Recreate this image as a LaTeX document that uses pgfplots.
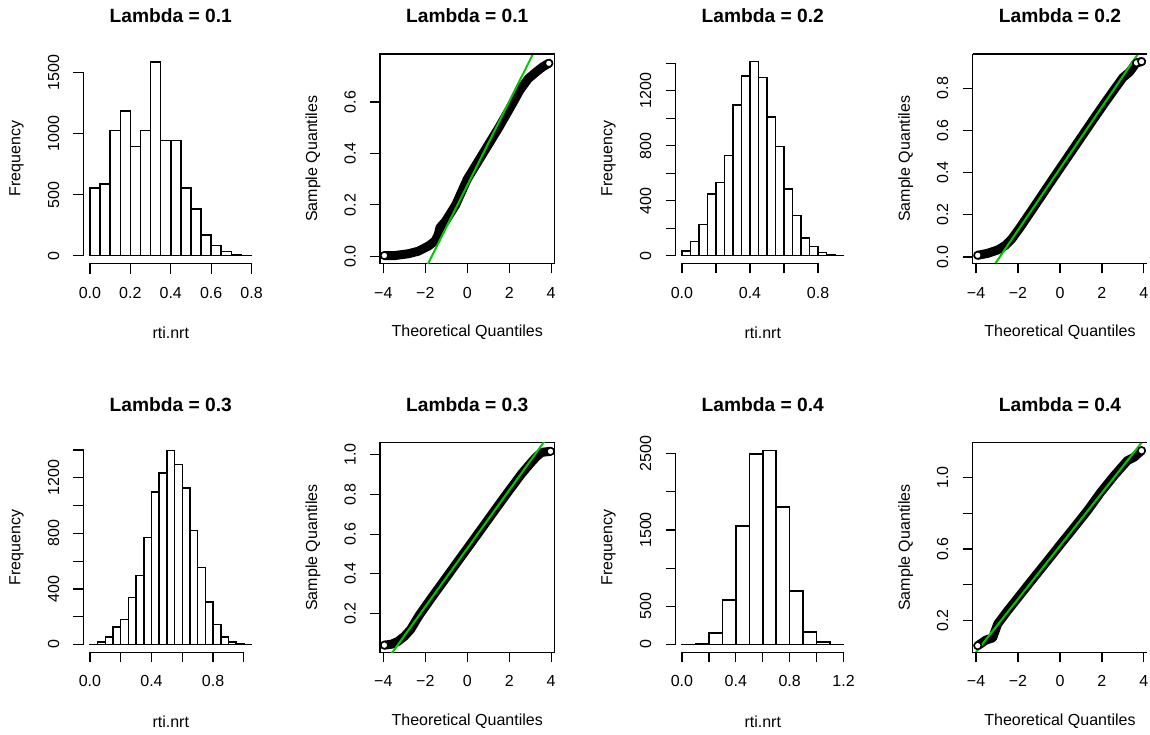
\documentclass[border=0pt]{standalone}
\usepackage{fontspec}
\setmainfont{Liberation Sans}
\usepackage{pgfplots}
\pgfplotsset{compat=1.18}
\definecolor{qqgreen}{RGB}{0,200,0}

\pgfplotsset{
  rpanel/.style={
    scale only axis, width=174.5pt, height=209.5pt, anchor=south west,
    tick align=outside, tick pos=left, major tick length=10pt,
    every tick/.style={black, line width=1.2pt},
    axis line style={line width=1.2pt},
    tick label style={font=\fontsize{16}{19}\selectfont},
    xticklabel style={anchor=center, yshift=-19pt},
    yticklabel style={anchor=center, xshift=-20pt, rotate=90},
    every axis title/.style={at={(0.5,1)}, anchor=center, yshift=38pt,
      font=\fontsize{19.2}{23}\selectfont\bfseries},
    every axis x label/.style={at={(axis description cs:0.5,0)}, anchor=center,
      yshift=-69pt, font=\fontsize{16}{19}\selectfont},
    every axis y label/.style={at={(axis description cs:0,0.5)}, xshift=-67pt,
      rotate=90, anchor=center, font=\fontsize{16}{19}\selectfont},
  },
  rhist/.style={rpanel, axis line style={draw=none}, clip=false,
    xlabel={rti.nrt}, ylabel={Frequency}},
  rqq/.style={rpanel, xmin=-4.16, xmax=4.16,
    xtick={-4,-2,0,2,4}, xticklabels={−4,−2,0,2,4},
    xlabel={Theoretical Quantiles}, ylabel={Sample Quantiles}},
  bars/.style={ybar interval, draw=black, fill=white, line width=1.5pt},
  band/.style={black, line width=9pt, line cap=round, line join=round},
  ends/.style={only marks, mark=*, mark size=3.6pt,
    mark options={draw=black, fill=white, line width=1.5pt}},
  qqline/.style={qqgreen, line width=2pt},
}

\begin{document}
\begin{tikzpicture}[x=1pt,y=1pt]
\path[use as bounding box] (0,0) rectangle (1150,734);

% ---- row 1 ----
\begin{axis}[rhist, at={(83.5pt,470.5pt)}, title={Lambda = 0.1},
  xmin=-0.032, xmax=0.832, ymin=-63.6, ymax=1653.6,
  xtick={0,0.2,0.4,0.6,0.8}, xticklabels={0.0,0.2,0.4,0.6,0.8},
  ytick={0,500,1000,1500}, yticklabels={0,500,1000,1500}]
  \addplot[bars] coordinates {(0,557)(0.05,590)(0.1,1028)(0.15,1185)(0.2,897)
    (0.25,1028)(0.3,1590)(0.35,946)(0.4,946)(0.45,554)(0.5,384)(0.55,170)
    (0.6,82)(0.65,36)(0.7,8)(0.75,3)(0.8,0)};
  \draw[line width=1.2pt] (axis cs:0,-63.6) -- (axis cs:0.8,-63.6);
  \draw[line width=1.2pt] (axis cs:-0.032,0) -- (axis cs:-0.032,1500);
\end{axis}

\begin{axis}[rqq, name=qq2, at={(380pt,470.5pt)}, title={Lambda = 0.1},
  ymin=-0.028, ymax=0.787,
  ytick={0,0.2,0.4,0.6}, yticklabels={0.0,0.2,0.4,0.6}]
  \addplot[band] coordinates {(-3.95,0.003)(-3.44,0.003)(-2.8,0.01)(-2.33,0.02)
    (-1.85,0.04)(-1.53,0.06)(-1.38,0.085)(-1.3,0.112)(-1.05,0.135)(-0.55,0.2)
    (0.0,0.3)(0.75,0.4)(1.5,0.5)(2.2,0.6)(2.5,0.645)(2.9,0.69)(3.3,0.718)
    (3.6,0.737)(3.89,0.751)};
  \addplot[ends] coordinates {(-3.95,0.003)(3.89,0.751)};
  \addplot[qqline] coordinates {(-2.5,-0.1315)(4.5,1.0095)};
\end{axis}
\draw[line width=2.6pt] (qq2.north west) -- (qq2.north east);

\begin{axis}[rhist, at={(675.5pt,470.5pt)}, title={Lambda = 0.2},
  xmin=-0.038, xmax=0.988, ymin=-56.4, ymax=1467.4,
  xtick={0,0.2,0.4,0.6,0.8}, xticklabels={0.0,{},0.4,{},0.8},
  ytick={0,200,400,600,800,1000,1200,1400},
  yticklabels={0,{},400,{},800,{},1200,{}}]
  \addplot[bars] coordinates {(0,36)(0.05,102)(0.1,226)(0.15,450)(0.2,533)
    (0.25,730)(0.3,1095)(0.35,1307)(0.4,1411)(0.45,1297)(0.5,1010)(0.55,796)
    (0.6,487)(0.65,292)(0.7,129)(0.75,68)(0.8,24)(0.85,7)(0.9,2)(0.95,0)};
  \draw[line width=1.2pt] (axis cs:0,-56.4) -- (axis cs:0.8,-56.4);
  \draw[line width=1.2pt] (axis cs:-0.038,0) -- (axis cs:-0.038,1400);
\end{axis}

\begin{axis}[rqq, name=qq4, at={(972.7pt,470.5pt)}, title={Lambda = 0.2},
  axis line style={draw=none},
  ymin=-0.031, ymax=0.962,
  ytick={0,0.2,0.4,0.6,0.8}, yticklabels={0.0,0.2,0.4,0.6,0.8}]
  \addplot[band] coordinates {(-3.92,0.008)(-3.45,0.017)(-2.97,0.033)(-2.6,0.055)
    (-2.3,0.085)(-1.9,0.14)(-1.4,0.213)(-0.9,0.287)(-0.4,0.361)(0.1,0.434)
    (0.6,0.507)(1.1,0.58)(1.6,0.653)(2.1,0.725)(2.6,0.795)(3.0,0.85)
    (3.3,0.875)(3.45,0.894)(3.61,0.918)(3.89,0.926)};
  \addplot[ends] coordinates {(-3.92,0.008)(3.65,0.92)(3.89,0.926)};
  \addplot[qqline] coordinates {(-4.5,-0.238)(4.5,1.076)};
\end{axis}
\draw[line width=1.2pt] (qq4.south east) -- (qq4.south west) -- (qq4.north west);
\draw[line width=2.6pt] (qq4.north west) -- (qq4.north east);

% ---- row 2 ----
\begin{axis}[rhist, at={(83.5pt,81.7pt)}, title={Lambda = 0.3},
  xmin=-0.042, xmax=1.092, ymin=-55.8, ymax=1451.8,
  xtick={0,0.2,0.4,0.6,0.8,1.0}, xticklabels={0.0,{},0.4,{},0.8,{}},
  ytick={0,200,400,600,800,1000,1200,1400},
  yticklabels={0,{},400,{},800,{},1200,{}}]
  \addplot[bars] coordinates {(0,1)(0.05,19)(0.1,55)(0.15,127)(0.2,180)(0.25,338)
    (0.3,498)(0.35,769)(0.4,1097)(0.45,1236)(0.5,1396)(0.55,1296)(0.6,1128)
    (0.65,822)(0.7,553)(0.75,307)(0.8,144)(0.85,55)(0.9,19)(0.95,7)(1.0,2)(1.05,0)};
  \draw[line width=1.2pt] (axis cs:0,-55.8) -- (axis cs:1.0,-55.8);
  \draw[line width=1.2pt] (axis cs:-0.042,0) -- (axis cs:-0.042,1400);
\end{axis}

\begin{axis}[rqq, at={(380pt,81.7pt)}, title={Lambda = 0.3},
  ymin=0.005, ymax=1.060,
  ytick={0.2,0.4,0.6,0.8,1.0}, yticklabels={0.2,0.4,0.6,0.8,1.0}]
  \addplot[band] coordinates {(-3.95,0.041)(-3.6,0.046)(-3.3,0.06)(-3.0,0.085)
    (-2.7,0.12)(-2.3,0.19)(-1.7,0.28)(-1.0,0.382)(-0.4,0.47)(0.2,0.557)
    (0.8,0.645)(1.4,0.733)(2.0,0.82)(2.6,0.905)(3.0,0.955)(3.3,0.99)
    (3.55,1.012)(3.97,1.017)};
  \addplot[ends] coordinates {(-3.95,0.041)(3.97,1.017)};
  \addplot[qqline] coordinates {(-4.5,-0.132)(4.5,1.188)};
\end{axis}

\begin{axis}[rhist, at={(675.5pt,81.7pt)}, title={Lambda = 0.4},
  xmin=-0.048, xmax=1.248, ymin=-101.6, ymax=2640.6,
  xtick={0,0.2,0.4,0.6,0.8,1.0,1.2}, xticklabels={0.0,{},0.4,{},0.8,{},1.2},
  ytick={0,500,1000,1500,2000,2500}, yticklabels={0,500,{},1500,{},2500}]
  \addplot[bars] coordinates {(0,2)(0.1,13)(0.2,153)(0.3,580)(0.4,1549)(0.5,2491)
    (0.6,2539)(0.7,1802)(0.8,698)(0.9,166)(1.0,35)(1.1,3)(1.2,0)};
  \draw[line width=1.2pt] (axis cs:0,-101.6) -- (axis cs:1.2,-101.6);
  \draw[line width=1.2pt] (axis cs:-0.048,0) -- (axis cs:-0.048,2500);
\end{axis}

\begin{axis}[rqq, name=qq8, at={(972.7pt,81.7pt)}, title={Lambda = 0.4},
  axis line style={draw=none},
  ymin=0.023, ymax=1.193,
  ytick={0.2,0.4,0.6,0.8,1.0}, yticklabels={0.2,{},0.6,{},1.0}]
  \addplot[band] coordinates {(-3.92,0.06)(-3.52,0.092)(-3.21,0.103)(-2.97,0.181)
    (-2.49,0.256)(-1.86,0.349)(-1.23,0.442)(-0.59,0.535)(0.04,0.628)(0.68,0.721)
    (1.31,0.814)(1.94,0.916)(2.58,1.009)(3.21,1.093)(3.53,1.112)(3.89,1.149)};
  \addplot[ends] coordinates {(-3.92,0.06)(3.89,1.149)};
  \addplot[qqline] coordinates {(-4.5,-0.05)(4.5,1.284)};
\end{axis}
\draw[line width=1.2pt] (qq8.south east) -- (qq8.south west) -- (qq8.north west) -- (qq8.north east);
\end{tikzpicture}
\end{document}
